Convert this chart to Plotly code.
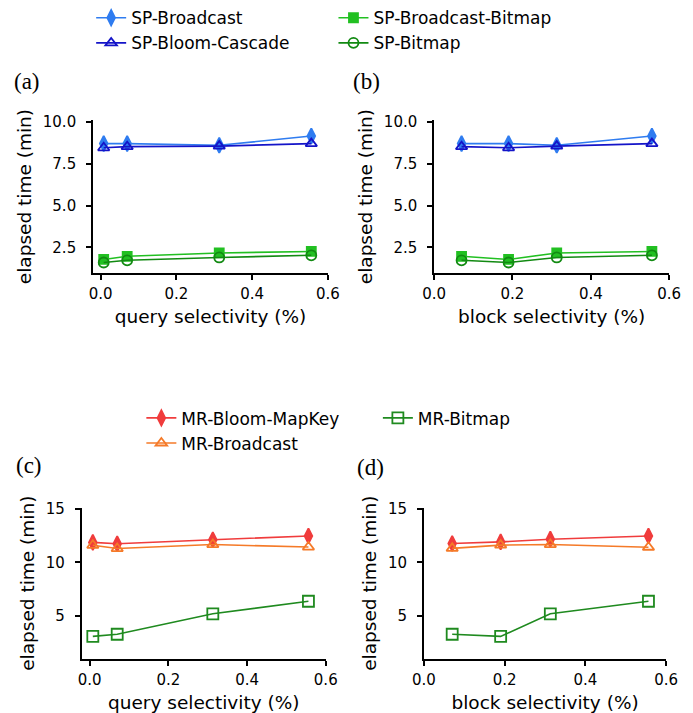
import plotly.graph_objects as go

W, H = 693, 713

# ---------------- data ----------------
query_sel = [0.008, 0.07, 0.313, 0.556]
block_sel = [0.07, 0.19, 0.313, 0.556]

# (a) query selectivity, SP
a_sp_broadcast = [8.70, 8.70, 8.60, 9.15]
a_sp_bloom_cascade = [8.45, 8.52, 8.55, 8.70]
a_sp_broadcast_bitmap = [1.78, 1.97, 2.17, 2.26]
a_sp_bitmap = [1.60, 1.73, 1.90, 2.03]

# (b) block selectivity, SP
b_sp_broadcast = [8.70, 8.70, 8.60, 9.15]
b_sp_bloom_cascade = [8.52, 8.45, 8.55, 8.70]
b_sp_broadcast_bitmap = [1.97, 1.78, 2.17, 2.26]
b_sp_bitmap = [1.73, 1.60, 1.90, 2.03]

# (c) query selectivity, MR
c_mr_bloom_mapkey = [11.85, 11.72, 12.10, 12.45]
c_mr_broadcast = [11.58, 11.28, 11.65, 11.42]
c_mr_bitmap = [3.10, 3.30, 5.20, 6.37]

# (d) block selectivity, MR
d_mr_bloom_mapkey = [11.75, 11.90, 12.15, 12.45]
d_mr_broadcast = [11.30, 11.60, 11.65, 11.40]
d_mr_bitmap = [3.30, 3.10, 5.20, 6.37]

x_ticks = [0.0, 0.2, 0.4, 0.6]
y_ticks_sp = [2.5, 5.0, 7.5, 10.0]
y_ticks_mr = [5, 10, 15]

# ---------------- styles ----------------
FONT = "DejaVu Sans"
styles = {
    "SP-Broadcast": dict(color="#2f7cf0", symbol="diamond-tall", size=11, legend="legend"),
    "SP-Bloom-Cascade": dict(color="#1414c8", symbol="triangle-up-open", size=10, legend="legend"),
    "SP-Broadcast-Bitmap": dict(color="#22c022", symbol="square", size=9, legend="legend2"),
    "SP-Bitmap": dict(color="#128a12", symbol="circle-open", size=10, legend="legend2"),
    "MR-Bloom-MapKey": dict(color="#f03c3c", symbol="diamond-tall", size=11, legend="legend3"),
    "MR-Broadcast": dict(color="#f57a28", symbol="triangle-up-open", size=10, legend="legend3"),
    "MR-Bitmap": dict(color="#1f8a1f", symbol="square-open", size=11, legend="legend4"),
}

fig = go.Figure()


def add(name, xs, ys, xa, ya, show):
    s = styles[name]
    fig.add_trace(go.Scatter(
        x=xs, y=ys, name=name, mode="lines+markers",
        xaxis=xa, yaxis=ya, showlegend=show, legend=s["legend"],
        line=dict(color=s["color"], width=1.6),
        marker=dict(symbol=s["symbol"], size=s["size"], color=s["color"],
                    line=dict(color=s["color"], width=1.8)),
        cliponaxis=False,
    ))


add("SP-Broadcast", query_sel, a_sp_broadcast, "x", "y", True)
add("SP-Bloom-Cascade", query_sel, a_sp_bloom_cascade, "x", "y", True)
add("SP-Broadcast-Bitmap", query_sel, a_sp_broadcast_bitmap, "x", "y", True)
add("SP-Bitmap", query_sel, a_sp_bitmap, "x", "y", True)

add("SP-Broadcast", block_sel, b_sp_broadcast, "x2", "y2", False)
add("SP-Bloom-Cascade", block_sel, b_sp_bloom_cascade, "x2", "y2", False)
add("SP-Broadcast-Bitmap", block_sel, b_sp_broadcast_bitmap, "x2", "y2", False)
add("SP-Bitmap", block_sel, b_sp_bitmap, "x2", "y2", False)

add("MR-Bloom-MapKey", query_sel, c_mr_bloom_mapkey, "x3", "y3", True)
add("MR-Broadcast", query_sel, c_mr_broadcast, "x3", "y3", True)
add("MR-Bitmap", query_sel, c_mr_bitmap, "x3", "y3", True)

add("MR-Bloom-MapKey", block_sel, d_mr_bloom_mapkey, "x4", "y4", False)
add("MR-Broadcast", block_sel, d_mr_broadcast, "x4", "y4", False)
add("MR-Bitmap", block_sel, d_mr_bitmap, "x4", "y4", False)


def px_x(p):
    return p / W


def px_y(p):
    return 1 - p / H


def xaxis(dom, rng, title, anchor):
    return dict(domain=[px_x(dom[0]), px_x(dom[1])], range=rng, anchor=anchor,
                tickvals=x_ticks, tickformat=".1f",
                showline=True, linecolor="black", linewidth=1.8,
                ticks="outside", ticklen=5, tickwidth=1.5, tickcolor="black",
                showgrid=False, zeroline=False, ticklabelstandoff=1,
                tickfont=dict(family=FONT, size=15, color="black"),
                title=dict(text=title, standoff=8,
                           font=dict(family=FONT, size=18.5, color="black")))


def yaxis(dom, rng, ticks, fmt, anchor):
    return dict(domain=[px_y(dom[1]), px_y(dom[0])], range=rng, anchor=anchor,
                tickvals=ticks, tickformat=fmt,
                showline=True, linecolor="black", linewidth=1.8,
                ticks="outside", ticklen=5, tickwidth=1.5, tickcolor="black",
                showgrid=False, zeroline=False, ticklabelstandoff=7,
                tickfont=dict(family=FONT, size=15, color="black"),
                title=dict(text="elapsed time (min)", standoff=6,
                           font=dict(family=FONT, size=18.5, color="black")))


top_y = (110.0, 265.5)
bot_y = (504.0, 658.0)

fig.update_layout(
    width=W, height=H,
    margin=dict(l=0, r=0, t=0, b=0),
    paper_bgcolor="white", plot_bgcolor="white",
    font=dict(family=FONT, color="black"),
    xaxis=xaxis((84.0, 327.3), [-0.02, 0.6], "query selectivity (%)", "y"),
    yaxis=yaxis(top_y, [0.97, 10.1], y_ticks_sp, ".1f", "x"),
    xaxis2=xaxis((437.3, 680.7), [0.0, 0.6], "block selectivity (%)", "y2"),
    yaxis2=yaxis(top_y, [0.97, 10.1], y_ticks_sp, ".1f", "x2"),
    xaxis3=xaxis((72.3, 325.0), [-0.02, 0.6], "query selectivity (%)", "y3"),
    yaxis3=yaxis(bot_y, [1.0, 15.1], y_ticks_mr, "d", "x3"),
    xaxis4=xaxis((426.7, 677.7), [0.0, 0.6], "block selectivity (%)", "y4"),
    yaxis4=yaxis(bot_y, [1.0, 15.1], y_ticks_mr, "d", "x4"),
)

leg_font = dict(family=FONT, size=17, color="black")


def legend(xp, yp):
    return dict(x=px_x(xp), y=px_y(yp), xanchor="left", yanchor="top",
                orientation="v", bgcolor="rgba(0,0,0,0)", borderwidth=0,
                font=leg_font, tracegroupgap=0, itemsizing="trace",
                itemclick=False, itemdoubleclick=False)


fig.update_layout(
    legend=legend(82, -12),
    legend2=legend(333, -12),
    legend3=legend(134, 395),
    legend4=legend(379, 395),
)

labels = [("(a)", 0, 71), ("(b)", 351, 71), ("(c)", 2, 461), ("(d)", 355, 463)]
for txt, xp, yp in labels:
    fig.add_annotation(text=txt, x=px_x(xp), y=px_y(yp), xref="paper", yref="paper",
                       xanchor="left", yanchor="middle", showarrow=False,
                       font=dict(family="Liberation Serif", size=23, color="black"))

fig.write_html(
    "out.html",
    config={"displayModeBar": False},
    post_script="document.body.style.margin='0';document.body.style.padding='0';"
                "document.body.style.overflow='hidden';",
)
